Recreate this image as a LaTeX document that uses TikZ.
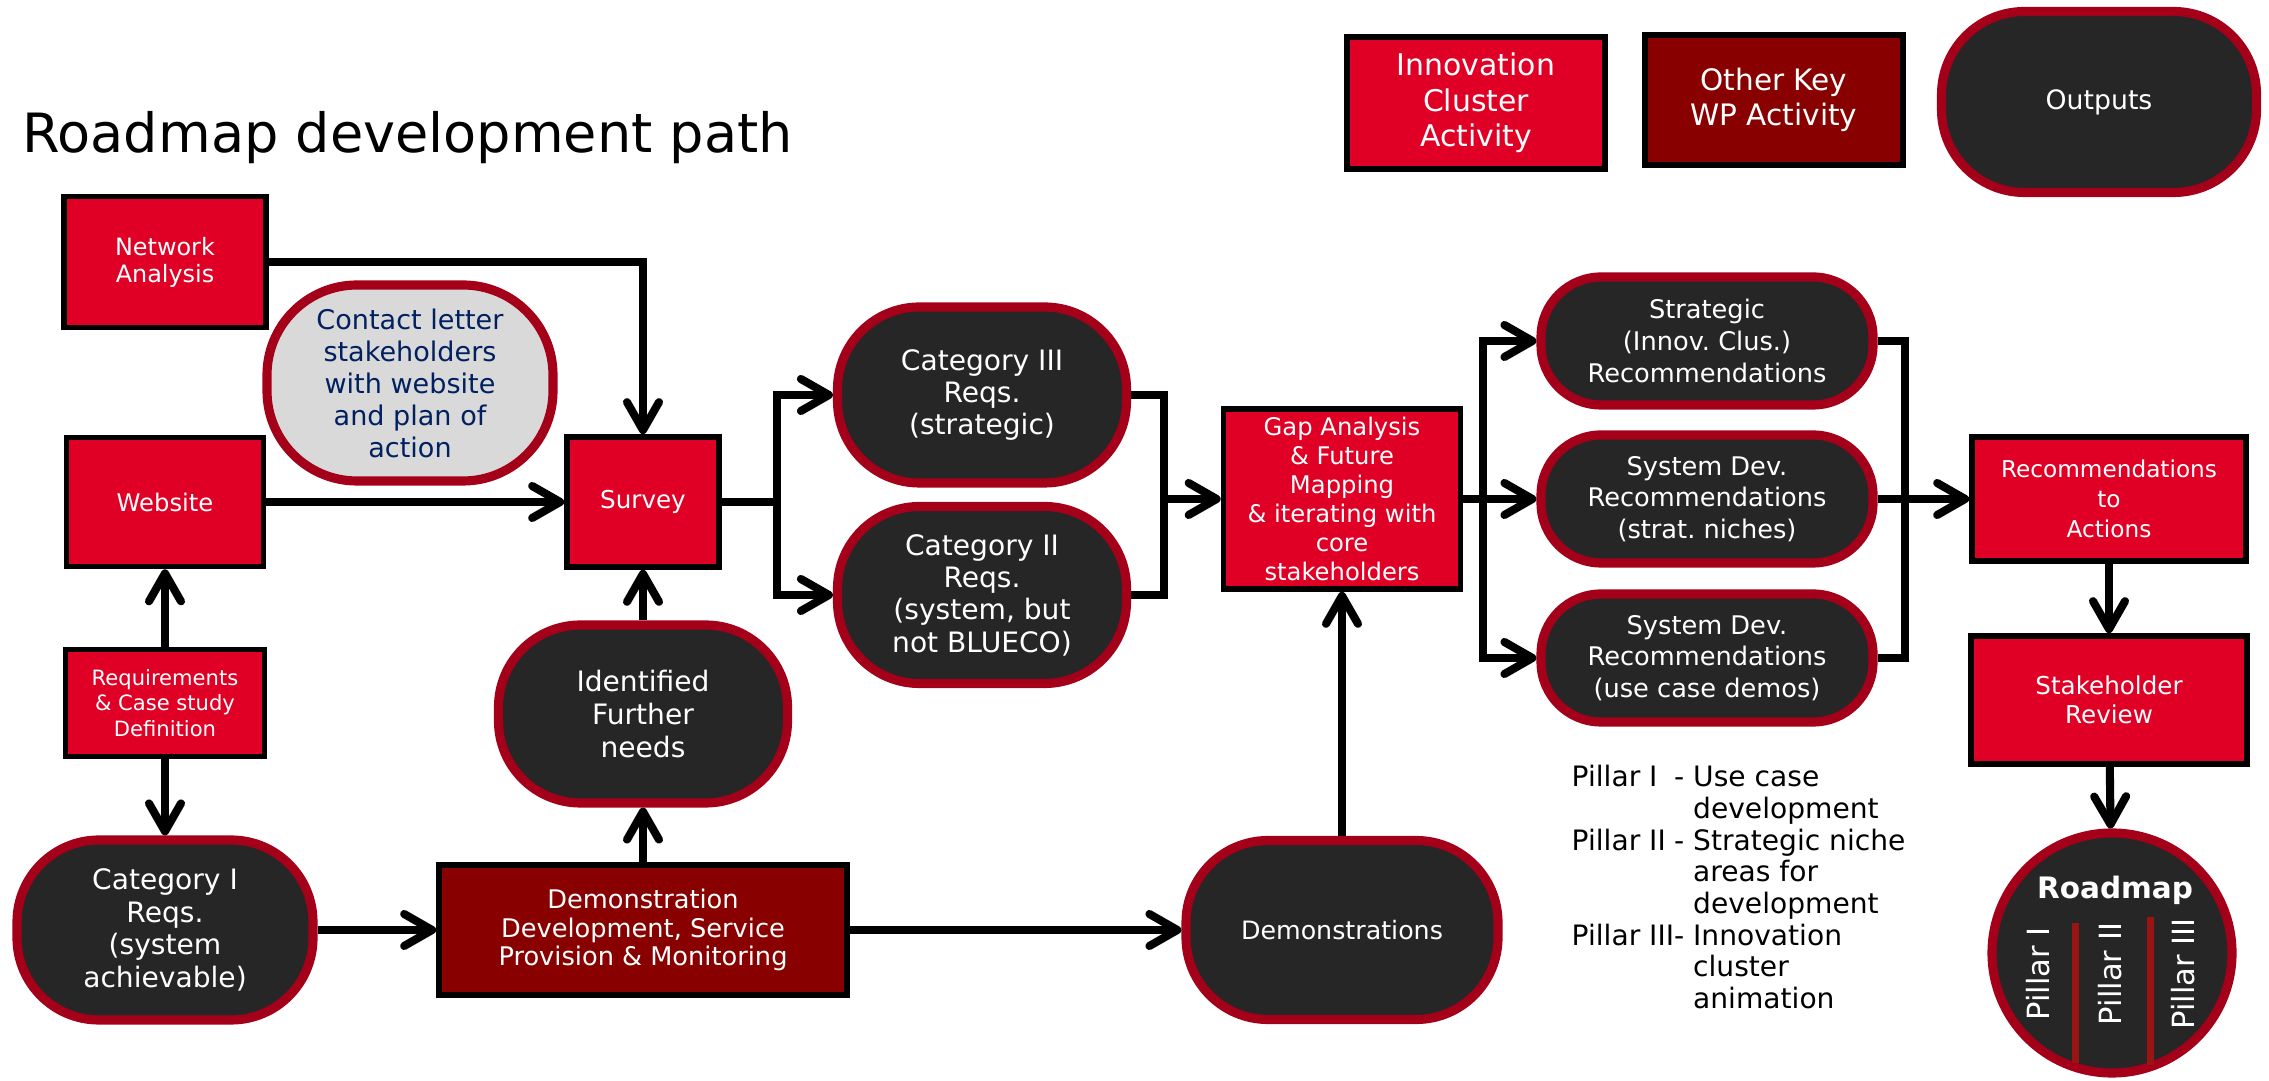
\documentclass[tikz,border=0pt]{standalone}
\usepackage{fontspec}
\setmainfont{DejaVu Sans}
\usepackage{xcolor}
\usepackage{tikz}
\usetikzlibrary{shapes,arrows,positioning,calc,arrows.meta}

\definecolor{icred}{RGB}{225,0,37}
\definecolor{wpred}{RGB}{136,0,0}
\definecolor{outdark}{RGB}{38,38,38}
\definecolor{outrim}{RGB}{165,0,25}
\definecolor{lettergrey}{RGB}{217,217,217}
\definecolor{letterblue}{RGB}{0,32,96}
\definecolor{pillarbar}{RGB}{155,20,20}

\newcommand{\fsz}[2]{\fontsize{#1}{#2}\selectfont}

\begin{document}
\frenchspacing
\begin{tikzpicture}[
    icbox/.style={rectangle, draw=black, line width=1.6pt, fill=icred, text=white, align=center, inner sep=1pt},
    wpbox/.style={icbox, fill=wpred},
    outp/.style={rectangle, rounded corners=#1, draw=outrim, line width=2.6pt, fill=outdark, text=white, align=center, inner sep=1pt},
    outp/.default=0.82cm,
    flow/.style={line width=2.3pt},
    flowarr/.style={flow, -{Straight Barb[length=2.8mm,width=3.2mm,round]}}
]
    \useasboundingbox (0,0) rectangle (22.69,-10.81);

    \node [anchor=base west, font=\fsz{15.4}{18}] (title) at (0.10,-1.53) {Roadmap development path};

    % legend
    \node [icbox, minimum width=2.58cm, minimum height=1.32cm, font=\fsz{8.5}{10.1}] (lgic) at (14.76,-1.03) {Innovation\\Cluster\\Activity};
    \node [wpbox, minimum width=2.58cm, minimum height=1.30cm, font=\fsz{8.4}{10.1}] (lgwp) at (17.74,-1.00) {Other Key\\WP Activity};
    \node [outp=0.83cm, minimum width=3.15cm, minimum height=1.81cm, font=\fsz{7.6}{9}] (lgout) at (20.99,-1.02) {Outputs};

    % activities and outputs
    \node [icbox, minimum width=2.02cm, minimum height=1.31cm, font=\fsz{6.8}{7.7}] (na) at (1.65,-2.62) {Network\\Analysis};
    \node [outp=0.9cm, fill=lettergrey, text=letterblue, minimum width=2.86cm, minimum height=1.96cm, font=\fsz{7.7}{9.1}] (letter) at (4.10,-3.83) {Contact letter\\stakeholders\\with website\\and plan of\\action};
    \node [icbox, minimum width=1.97cm, minimum height=1.29cm, font=\fsz{6.9}{8}] (web) at (1.65,-5.02) {Website};
    \node [icbox, minimum width=1.99cm, minimum height=1.07cm, font=\fsz{6}{7.2}] (req) at (1.65,-7.03) {Requirements\\\& Case study\\Definition};
    \node [outp, minimum width=2.96cm, minimum height=1.80cm, font=\fsz{8}{9.3}] (cat1) at (1.65,-9.30) {Category I\\Reqs.\\(system\\achievable)};
    \node [wpbox, minimum width=4.08cm, minimum height=1.30cm, font=\fsz{7.3}{8}] (demodev) at (6.43,-9.30) {Demonstration\\Development, Service\\Provision \& Monitoring};
    \node [outp, minimum width=2.89cm, minimum height=1.78cm, font=\fsz{8}{9.3}] (ident) at (6.43,-7.14) {Identified\\Further\\needs};
    \node [icbox, minimum width=1.52cm, minimum height=1.30cm, font=\fsz{7}{8}] (survey) at (6.43,-5.02) {Survey};
    \node [outp, minimum width=2.89cm, minimum height=1.76cm, font=\fsz{8}{9.2}] (cat3) at (9.82,-3.95) {Category III\\Reqs.\\(strategic)};
    \node [outp, minimum width=2.89cm, minimum height=1.77cm, font=\fsz{8}{9.2}] (cat2) at (9.82,-5.95) {Category II\\Reqs.\\(system, but\\not BLUECO)};
    \node [icbox, minimum width=2.37cm, minimum height=1.80cm, font=\fsz{6.9}{8.2}] (gap) at (13.42,-4.99) {Gap Analysis\\\& Future\\Mapping\\\& iterating with\\core\\stakeholders};
    \node [outp, minimum width=3.12cm, minimum height=1.79cm, font=\fsz{7.2}{8.5}] (demos) at (13.42,-9.30) {Demonstrations};
    \node [outp=0.6cm, minimum width=3.32cm, minimum height=1.28cm, font=\fsz{7.3}{9}] (strat) at (17.07,-3.41) {Strategic\\(Innov. Clus.)\\Recommendations};
    \node [outp=0.6cm, minimum width=3.32cm, minimum height=1.28cm, font=\fsz{7.3}{9}] (sysn) at (17.07,-4.99) {System Dev.\\Recommendations\\(strat. niches)};
    \node [outp=0.6cm, minimum width=3.32cm, minimum height=1.28cm, font=\fsz{7.3}{9}] (sysu) at (17.07,-6.58) {System Dev.\\Recommendations\\(use case demos)};
    \node [icbox, minimum width=2.74cm, minimum height=1.24cm, font=\fsz{6.6}{8.5}] (rec) at (21.09,-4.99) {Recommendations\\to\\Actions};
    \node [icbox, minimum width=2.76cm, minimum height=1.28cm, font=\fsz{7}{8.3}] (review) at (21.09,-7.00) {Stakeholder\\Review};

    % roadmap
    \node [circle, draw=outrim, line width=2.6pt, fill=outdark, minimum size=2.40cm, inner sep=0pt] (roadmap) at (21.12,-9.53) {};
    \node [text=white, font=\bfseries\fsz{8.4}{10}] (rmlabel) at (21.15,-8.90) {Roadmap};
    \node [rotate=90, text=white, font=\fsz{8.7}{10}] (pil1) at (20.38,-9.74) {Pillar I};
    \node [rotate=90, text=white, font=\fsz{8.7}{10}] (pil2) at (21.10,-9.74) {Pillar II};
    \node [rotate=90, text=white, font=\fsz{8.7}{10}] (pil3) at (21.83,-9.74) {Pillar III};
    \fill [pillarbar] (20.72,-9.23) rectangle (20.79,-10.63);
    \fill [pillarbar] (21.47,-9.17) rectangle (21.54,-10.65);

    \node [anchor=base west, inner sep=0pt, font=\fsz{8}{9}] (pillars) at (15.71,-7.87) {\begin{tabular}[t]{@{}l@{}l@{\ }l@{}}
        Pillar I & - & Use case\\
        & & development\\
        Pillar II & - & Strategic niche\\
        & & areas for\\
        & & development\\
        Pillar III & - & Innovation\\
        & & cluster\\
        & & animation
    \end{tabular}};

    % connectors
    \draw [flowarr] (na.east) -| (survey.north);
    \draw [flowarr] (web) -- (survey);
    \draw [flowarr] (req) -- (web);
    \draw [flowarr] (req) -- (cat1);
    \draw [flowarr] (cat1) -- (demodev);
    \draw [flowarr] (demodev) -- (ident);
    \draw [flowarr] (ident) -- (survey);
    \draw [flowarr] (demodev) -- (demos);
    \draw [flowarr] (demos) -- (gap);

    \coordinate (sv) at (7.77,-5.02);
    \draw [flowarr] (survey.east) -- (sv) |- (cat3.west);
    \draw [flowarr] (sv) |- (cat2.west);

    \coordinate (cj) at (11.64,-4.99);
    \draw [flow] (cat3.east) -| (cj) |- (cat2.east);
    \draw [flowarr] (cj) -- (gap.west);

    \coordinate (gj) at (14.83,-4.99);
    \draw [flowarr] (gap.east) -- (gj) |- (strat.west);
    \draw [flowarr] (gj) -- (sysn.west);
    \draw [flowarr] (gj) |- (sysu.west);

    \coordinate (rj) at (19.05,-4.99);
    \draw [flow] (strat.east) -| (rj) |- (sysu.east);
    \draw [flowarr] (sysn.east) -- (rec.west);
    \draw [flowarr] (rec) -- (review);
    \draw [flowarr] (review) -- (roadmap);
\end{tikzpicture}
\end{document}
